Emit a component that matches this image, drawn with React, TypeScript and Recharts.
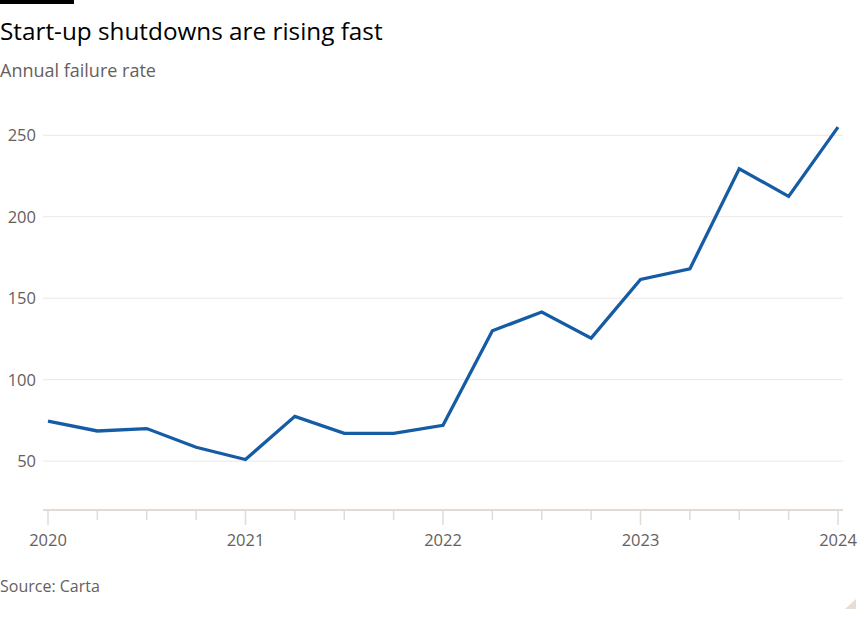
import React from 'react';
import { LineChart, Line, XAxis, YAxis, CartesianGrid } from 'recharts';

// quarterly, 2020 Q1 .. 2024 Q1
const quarters = [0, 1, 2, 3, 4, 5, 6, 7, 8, 9, 10, 11, 12, 13, 14, 15, 16];
const failureRate = [74.5, 68.5, 70, 58.5, 51, 77.5, 67, 67, 72, 130, 141.5, 125.5, 161.5, 168, 229.5, 212.5, 255];
const yearLabels: Record<number, string> = { 0: '2020', 4: '2021', 8: '2022', 12: '2023', 16: '2024' };
const yTicks = [50, 100, 150, 200, 250];

const data = quarters.map((q, i) => ({ q, rate: failureRate[i] }));

const FONT = '"Open Sans", Lato, sans-serif';
const GREY = '#66605c';

const XTick = (props: any) => {
  const { x, y, payload } = props;
  const label = yearLabels[payload.value];
  return (
    <g>
      <line x1={x} x2={x} y1={y} y2={y + (label ? 15 : 10)} stroke="#e2dbd5" strokeWidth={1.5} />
      {label && (
        <text x={x} y={y + 36} textAnchor="middle" fill={GREY} fontSize={16.5} fontFamily={FONT}>
          {label}
        </text>
      )}
    </g>
  );
};

const YTick = (props: any) => {
  const { x, y, payload } = props;
  return (
    <text x={x} y={y + 6} textAnchor="end" fill={GREY} fontSize={16.5} fontFamily={FONT}>
      {payload.value}
    </text>
  );
};

const App: React.FC = () => {
  return (
    <div style={{ position: 'absolute', left: 0, top: 0, width: 864, height: 617, background: '#fff', fontFamily: FONT }}>
      <div style={{ position: 'absolute', left: 0, top: 0, width: 74, height: 4, background: '#000' }} />
      <div style={{ position: 'absolute', left: 0, top: 19, fontSize: 24.3, lineHeight: 1, color: '#000', whiteSpace: 'nowrap' }}>
        Start-up shutdowns are rising fast
      </div>
      <div style={{ position: 'absolute', left: 0, top: 61, fontSize: 18, lineHeight: 1, color: GREY, whiteSpace: 'nowrap' }}>
        Annual failure rate
      </div>
      <div style={{ position: 'absolute', left: 0, top: 0 }}>
        <LineChart width={864} height={617} data={data} margin={{ top: 119, right: 21, bottom: 77, left: 0 }}>
          <CartesianGrid vertical={false} horizontalValues={yTicks} stroke="#ece6e1" strokeWidth={1} />
          <XAxis
            dataKey="q"
            type="number"
            domain={[0, 16]}
            ticks={quarters}
            interval={0}
            padding={{ left: 5, right: 5 }}
            height={30}
            tickSize={0}
            tickMargin={0}
            tickLine={false}
            axisLine={{ stroke: '#e2dbd5', strokeWidth: 2 }}
            tick={<XTick />}
          />
          <YAxis
            domain={[20, 260]}
            ticks={yTicks}
            width={43}
            axisLine={false}
            tickLine={false}
            tickSize={0}
            tickMargin={7}
            tick={<YTick />}
          />
          <Line
            type="linear"
            dataKey="rate"
            stroke="#155ca5"
            strokeWidth={3.3}
            dot={false}
            isAnimationActive={false}
          />
        </LineChart>
      </div>
      <div style={{ position: 'absolute', left: 0, top: 578, fontSize: 16, lineHeight: 1, color: GREY, whiteSpace: 'nowrap' }}>
        Source: Carta
      </div>
      <svg style={{ position: 'absolute', left: 844, top: 598 }} width={14} height={12}>
        <polygon points="12,1 12,11 1,11" fill="#e8ddd3" />
      </svg>
    </div>
  );
};

export default App;
